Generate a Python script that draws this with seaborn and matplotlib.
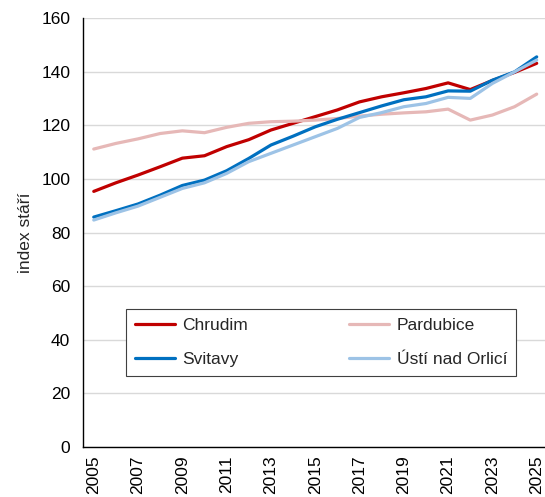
import matplotlib
matplotlib.use("Agg")
import matplotlib.pyplot as plt
import numpy as np
import pandas as pd
import seaborn as sns

years = list(range(2005, 2026))
chrudim = [95.4, 98.6, 101.5, 104.6, 107.8, 108.7, 112.1, 114.7, 118.3, 120.8, 123.3,
           125.8, 128.8, 130.7, 132.2, 133.8, 135.9, 133.4, 136.8, 139.8, 143.2]
pardubice = [111.2, 113.3, 115.0, 117.0, 118.0, 117.3, 119.3, 120.8, 121.4, 121.6, 122.0,
             122.6, 123.5, 124.2, 124.7, 125.1, 126.1, 122.0, 123.9, 127.0, 131.7]
svitavy = [85.8, 88.2, 90.7, 94.0, 97.6, 99.6, 103.1, 107.7, 112.7, 116.0, 119.5,
           122.3, 124.8, 127.3, 129.6, 130.7, 132.9, 132.8, 136.9, 140.0, 145.6]
usti = [84.7, 87.4, 89.9, 93.2, 96.5, 98.6, 102.1, 106.5, 109.6, 112.7, 115.8,
        118.9, 123.0, 124.8, 127.0, 128.2, 130.5, 130.1, 135.7, 140.0, 144.4]

districts = ["Chrudim", "Pardubice", "Svitavy", "Ústí nad Orlicí"]
colors = ["#C00000", "#E6B8B7", "#0070C0", "#9DC3E6"]

df = pd.DataFrame({
    "rok": years * 4,
    "index": chrudim + pardubice + svitavy + usti,
    "okres": [d for d in districts for _ in years],
})

sns.set_style("white")
plt.rcParams["font.family"] = ["Liberation Sans", "DejaVu Sans"]
fs = 12.5

fig = plt.figure(figsize=(5.45, 4.97), dpi=100)
ax = fig.add_axes([0.1517, 0.1006, 0.8534, 0.8626])

sns.lineplot(data=df, x="rok", y="index", hue="okres", hue_order=districts,
             palette=dict(zip(districts, colors)), linewidth=2.3, ax=ax)

ax.set_xlim(2004.5, 2025.5)
ax.set_ylim(0, 160)
ax.set_yticks(range(0, 161, 20))
ax.yaxis.grid(True, color="#d9d9d9", linewidth=1)
ax.set_axisbelow(True)

# tick marks between categories, labels on every other year
ax.set_xticks(np.arange(2004.5, 2025.6, 1))
ax.set_xticklabels([])
ax.set_xticks(years[::2], minor=True)
ax.set_xticklabels([str(y) for y in years[::2]], minor=True, rotation=90)
ax.tick_params(axis="x", which="major", direction="out", length=4, width=1, color="black")
ax.tick_params(axis="x", which="minor", length=0, pad=6)
ax.tick_params(axis="y", direction="out", length=4, width=1, color="black", pad=5)
ax.tick_params(which="both", labelsize=fs, labelcolor="black")

for side in ["top", "right"]:
    ax.spines[side].set_visible(False)
for side in ["left", "bottom"]:
    ax.spines[side].set_color("black")
    ax.spines[side].set_linewidth(1)

ax.set_xlabel("")
ax.set_ylabel("index stáří", fontsize=fs, labelpad=6)

# row-wise legend order: Chrudim, Pardubice / Svitavy, Ústí nad Orlicí
handles, labels = ax.get_legend_handles_labels()
order = [0, 2, 1, 3]
leg = ax.legend([handles[i] for i in order], [labels[i] for i in order], ncol=2,
                loc="lower left",
                bbox_to_anchor=(126 / 545, 1 - 376 / 497), bbox_transform=fig.transFigure,
                frameon=True, fancybox=False, edgecolor="#404040", framealpha=1,
                fontsize=fs, handlelength=2.3, handletextpad=0.45,
                columnspacing=5.8, labelspacing=1.12, borderpad=0.5, borderaxespad=0)
leg.get_frame().set_linewidth(0.8)
for line in leg.get_lines():
    line.set_linewidth(2.3)

fig.savefig("out.png", dpi=100)
plt.close(fig)
